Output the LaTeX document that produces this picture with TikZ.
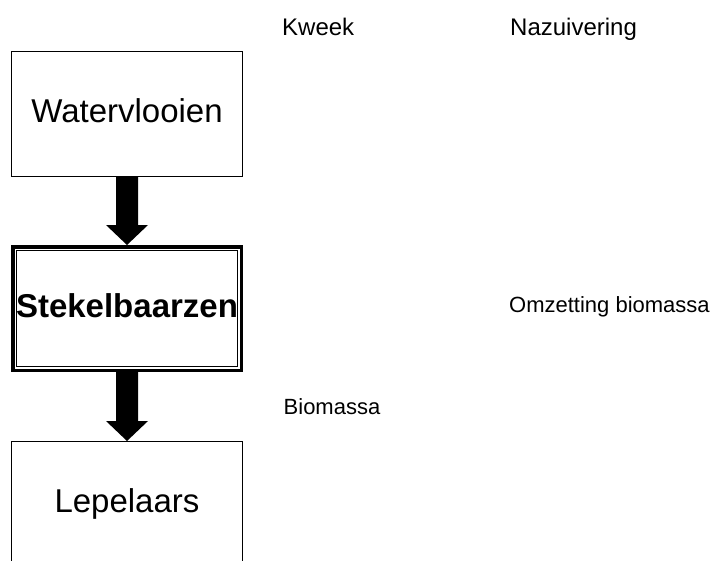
\documentclass[tikz,border=0pt]{standalone}
\usepackage{fontspec}
\setmainfont{Liberation Sans}
\usetikzlibrary{calc}

% solid block arrow from the bottom of one node to the top of the next
\newcommand\flowarrow[2]{%
  \fill[black] ($(#1.south)+(-11,0)$) -- ($(#2.north)+(-11,-20)$)
    -- ($(#2.north)+(-21,-20)$) -- (#2.north) -- ($(#2.north)+(21,-20)$)
    -- ($(#2.north)+(11,-20)$) -- ($(#1.south)+(11,0)$) -- cycle;}

\begin{document}
\begin{tikzpicture}[x=1pt,y=-1pt,
  box/.style={draw=black, line width=1pt, minimum width=231pt,
    minimum height=125pt, inner sep=0pt, text height=24pt, text depth=7pt,
    font=\fontsize{33}{36}\selectfont},
  heavybox/.style={box, line width=3.5pt, minimum width=228.5pt,
    minimum height=123.5pt, font=\fontsize{33}{36}\selectfont\bfseries},
  heading/.style={anchor=base west, inner sep=0pt, font=\fontsize{24}{28}\selectfont},
  note/.style={anchor=base west, inner sep=0pt, font=\fontsize{22}{26}\selectfont}]

\fill[white] (0,0) rectangle (711,560);
\useasboundingbox (0,0) rectangle (711,560);

% chain of organisms
\node[box] (water) at (127,114) {Watervlooien};
\node[heavybox] (stekel) at (127,308.5) {Stekelbaarzen};
\draw[line width=1pt] ($(stekel.north west)+(5.5,5.5)$) rectangle ($(stekel.south east)+(-5.5,-5.5)$);
\node[box] (lepel) at (127,504) {Lepelaars};

\flowarrow{water}{stekel}
\flowarrow{stekel}{lepel}

% column headings and side notes
\node[heading] (kweek) at (282,35) {Kweek};
\node[heading] (nazuiv) at (510,35) {Nazuivering};
\node[note] (omzet) at (509,312.5) {Omzetting biomassa};
\node[note] (biom) at (283.5,414) {Biomassa};
\end{tikzpicture}
\end{document}
